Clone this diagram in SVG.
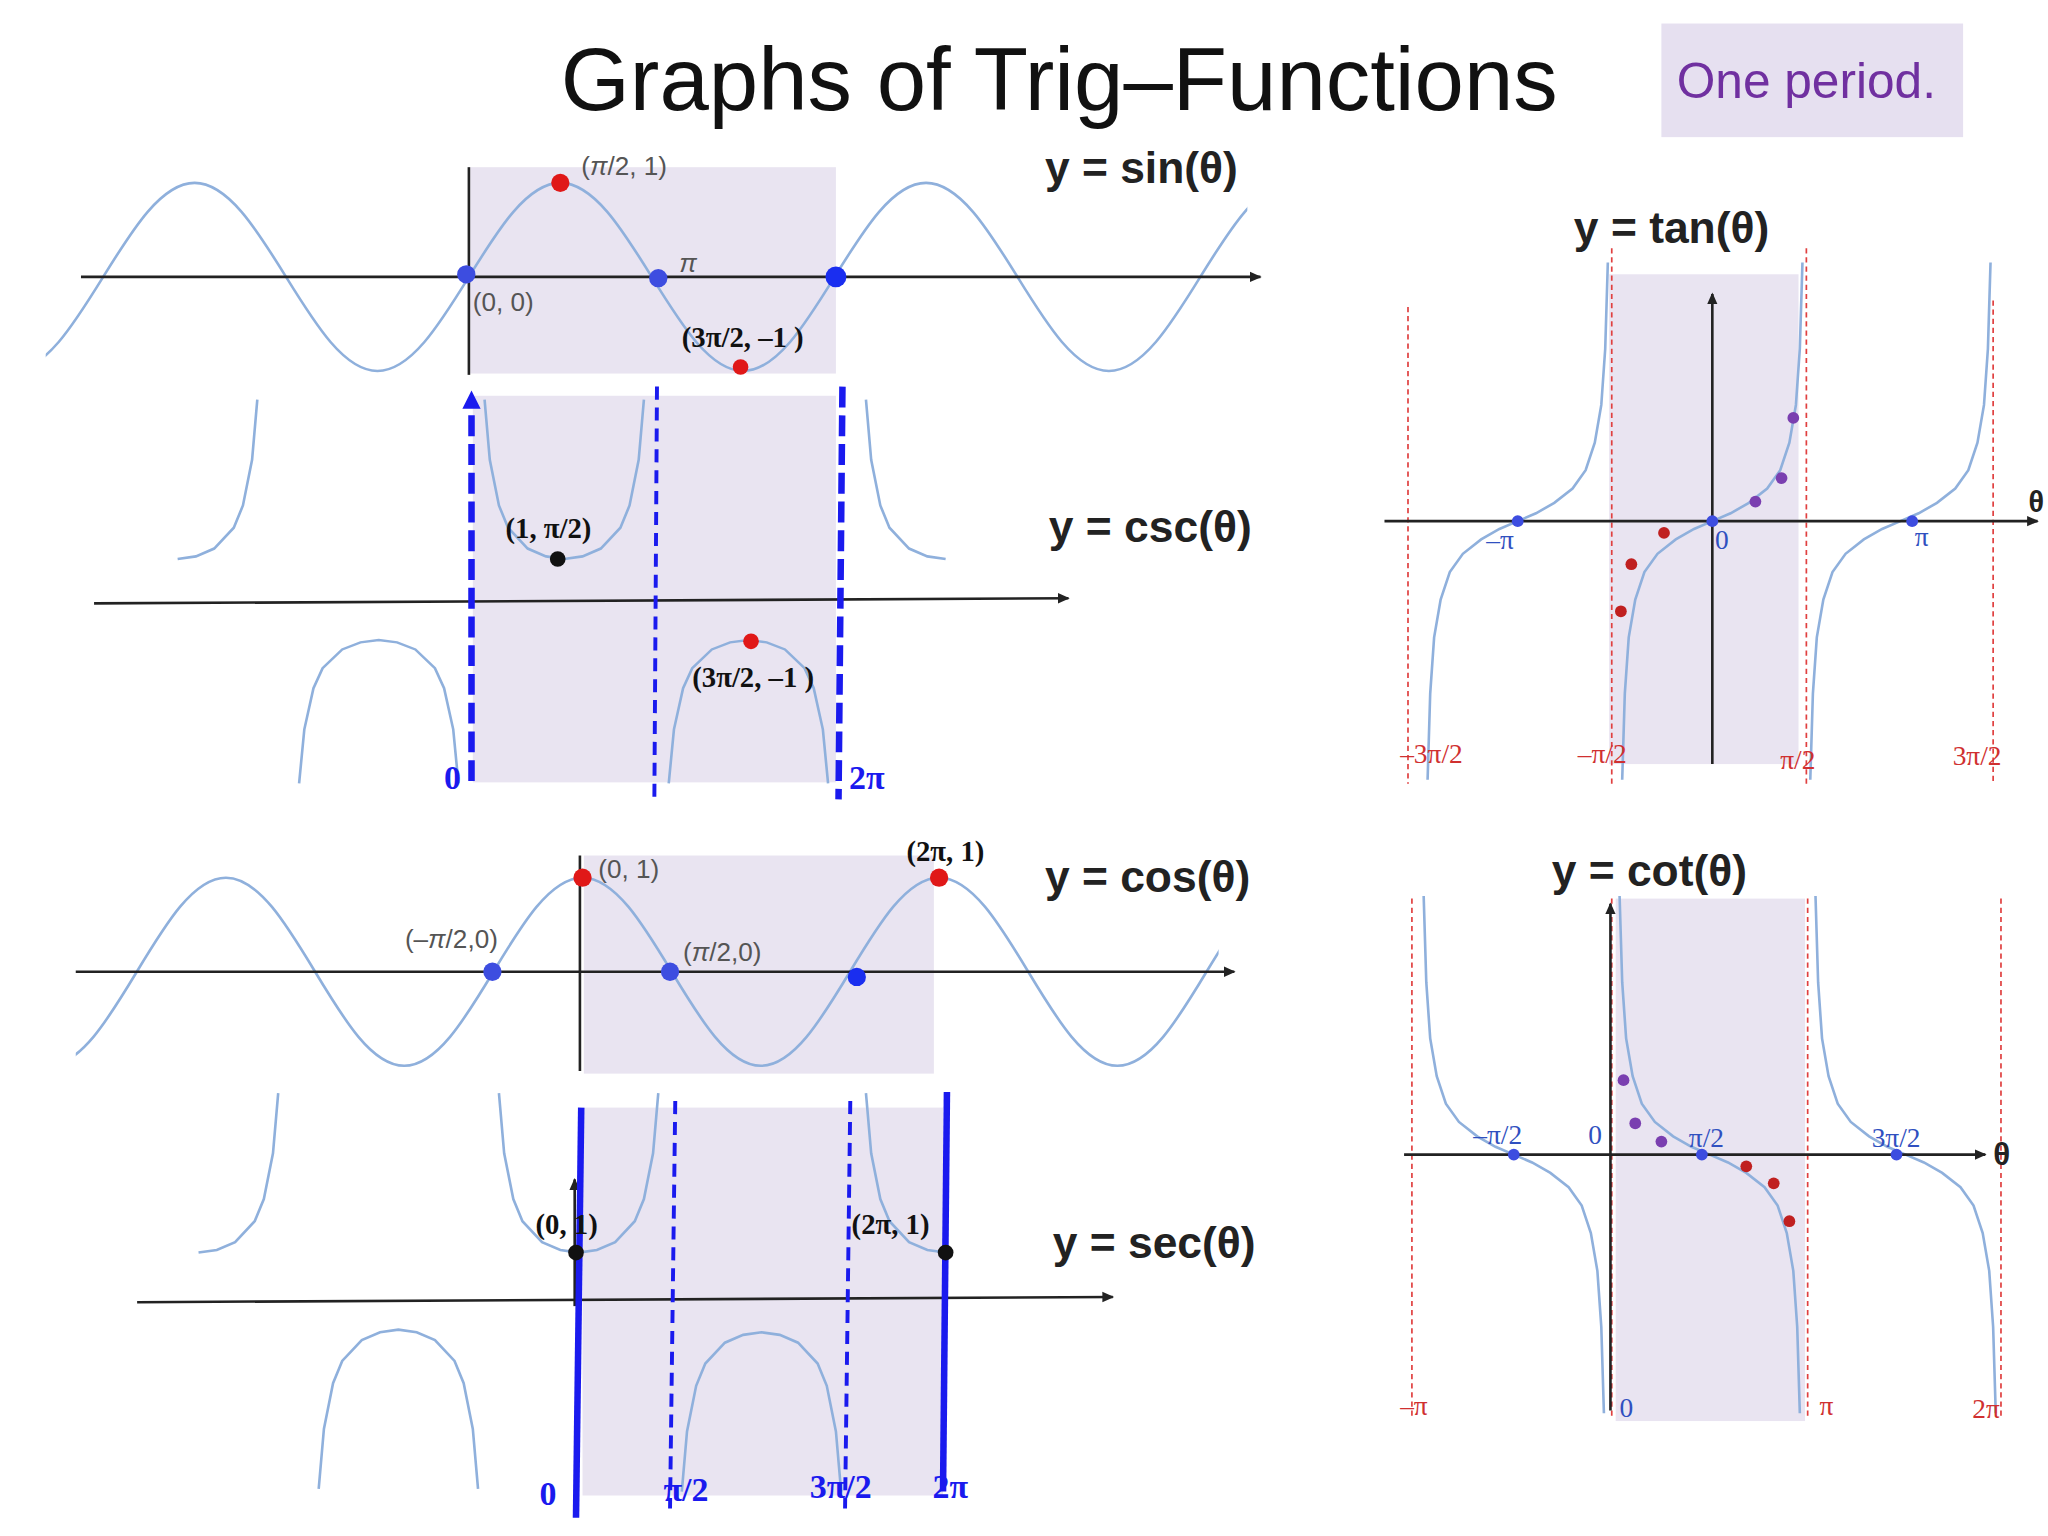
<svg xmlns="http://www.w3.org/2000/svg" xmlns:xlink="http://www.w3.org/1999/xlink" width="2048" height="1536" viewBox="0 0 2048 1536">
<style>
.shade{fill:#e9e4f1}
.curve{fill:none;stroke:#8fb0dc;stroke-width:2}
.axis{stroke:#222;stroke-width:2;fill:none}
.bdash{stroke:#1a1aee;stroke-width:3;stroke-dasharray:10,6;fill:none}
.bthick{stroke:#1a1aee;stroke-width:5;stroke-dasharray:16,6;fill:none}
.bsolid{stroke:#1a1aee;stroke-width:5;fill:none}
.rdash{stroke:#e04040;stroke-width:1.3;stroke-dasharray:4,3;fill:none}
.ttl{font-family:"Liberation Sans",Arial,sans-serif;font-weight:bold;font-size:34px;fill:#222}
.lbl{font-family:"Liberation Sans",Arial,sans-serif;font-size:20px;fill:#555}
.slb{font-family:"Liberation Serif","Times New Roman",serif;font-weight:bold;font-size:22px;fill:#111}
.blu{font-family:"Liberation Serif","Times New Roman",serif;font-weight:bold;font-size:26px;fill:#1a1aee}
.tb{font-family:"Liberation Serif","Times New Roman",serif;font-size:21px;fill:#3050c0}
.tr{font-family:"Liberation Serif","Times New Roman",serif;font-size:21px;fill:#d03030}
</style>
<defs>
<marker id="ah" markerWidth="10" markerHeight="10" refX="8" refY="5" orient="auto" markerUnits="userSpaceOnUse"><path d="M0,1 L9,5 L0,9 z" fill="#222"/></marker>
<marker id="bh" markerWidth="16" markerHeight="16" refX="8" refY="8" orient="auto" markerUnits="userSpaceOnUse"><path d="M0,1 L14,8 L0,15 z" fill="#1a1aee"/></marker>
<path id="U" d="M-61,-122 L-57,-76 L-50,-41 L-43,-24 L-28,-8 L-14,-2 L0,0 L14,-2 L28,-8 L43,-24 L50,-41 L57,-76 L61,-122"/>
<path id="Ur" d="M0,0 L14,-2 L28,-8 L43,-24 L50,-41 L57,-76 L61,-122"/>
<path id="Ul" d="M-61,-122 L-57,-76 L-50,-41 L-43,-24 L-28,-8 L-14,-2 L0,0"/>
<path id="T" d="M-69,198 L-67,132 L-64,89 L-59,60 L-52,39 L-42,25 L-28,14 L-14,6 L0,0 L14,-6 L28,-14 L42,-25 L52,-39 L59,-60 L64,-89 L67,-132 L69,-198"/>
<clipPath id="cs"><rect x="35" y="0" width="920" height="400"/></clipPath>
<clipPath id="cc"><rect x="58" y="600" width="875" height="250"/></clipPath>
</defs>
<rect width="2048" height="1536" fill="#fff"/>
<g transform="scale(1.30612)">
<g id="title"><text x="811" y="84" text-anchor="middle" font-family="Liberation Sans,Arial,sans-serif" font-size="68" fill="#111">Graphs of Trig–Functions</text></g>
<g id="oneperiod"><rect x="1272" y="18" width="231" height="87" fill="#e6e0f0"/><text x="1383" y="75" text-anchor="middle" font-family="Liberation Sans,Arial,sans-serif" font-size="38" fill="#7030a0">One period.</text></g>

<g id="sin">
<rect class="shade" x="360" y="128" width="280" height="158"/>
<g clip-path="url(#cs)"><path class="curve" d="M-201,212 c22.8,-36.9 44.7,-72 70,-72 s47.2,35.1 70,72 s44.7,72 70,72 s47.2,-35.1 70,-72 s44.7,-72 70,-72 s47.2,35.1 70,72 s44.7,72 70,72 s47.2,-35.1 70,-72 s44.7,-72 70,-72 s47.2,35.1 70,72 s44.7,72 70,72 s47.2,-35.1 70,-72 s44.7,-72 70,-72 s47.2,35.1 70,72 s44.7,72 70,72 s47.2,-35.1 70,-72 s44.7,-72 70,-72 s47.2,35.1 70,72 s44.7,72 70,72 s47.2,-35.1 70,-72 s44.7,-72 70,-72"/></g>
<line class="axis" x1="62" y1="212" x2="965" y2="212" marker-end="url(#ah)"/>
<line class="axis" x1="359" y1="128" x2="359" y2="287"/>
<circle cx="429" cy="140" r="7" fill="#e01818"/>
<circle cx="567" cy="281" r="6" fill="#e01818"/>
<circle cx="357" cy="210" r="7" fill="#3d4de0"/>
<circle cx="504" cy="213" r="7" fill="#3d4de0"/>
<circle cx="640" cy="212" r="8" fill="#1a2ef0"/>
<text class="lbl" x="445" y="134">(<tspan font-style="italic">π</tspan>/2, 1)</text>
<text class="lbl" x="520" y="208" font-style="italic">π</text>
<text class="lbl" x="362" y="238">(0, 0)</text>
<text class="slb" x="522" y="266">(3π/2, –1 )</text>
<text class="ttl" x="800" y="140">y = sin(θ)</text>
</g>

<g id="csc">
<rect class="shade" x="362" y="303" width="278" height="296"/>
<use href="#U" class="curve" transform="translate(432,428)"/>
<use href="#U" class="curve" transform="translate(573,490) scale(1,-0.9)"/>
<use href="#U" class="curve" transform="translate(290,490) scale(1,-0.9)"/>
<use href="#Ur" class="curve" transform="translate(136,428)"/>
<use href="#Ul" class="curve" transform="translate(724,428)"/>
<line class="axis" x1="72" y1="462" x2="818" y2="458" marker-end="url(#ah)"/>
<line class="bthick" x1="361" y1="598" x2="361" y2="305" marker-end="url(#bh)"/>
<line class="bdash" x1="503" y1="296" x2="501" y2="612"/>
<line class="bthick" x1="645" y1="296" x2="642" y2="612"/>
<circle cx="427" cy="428" r="6" fill="#111"/>
<circle cx="575" cy="491" r="6" fill="#e01818"/>
<text class="slb" x="387" y="412">(1, π/2)</text>
<text class="slb" x="530" y="526">(3π/2, –1 )</text>
<text class="blu" x="340" y="604">0</text>
<text class="blu" x="650" y="604">2π</text>
<text class="ttl" x="803" y="415">y = csc(θ)</text>
</g>

<g id="cos">
<rect class="shade" x="447" y="655" width="268" height="167"/>
<g clip-path="url(#cc)"><path class="curve" d="M-168.25,744 c22.2,-36.9 43.5,-72 68.25,-72 s46,35.1 68.25,72 s43.5,72 68.25,72 s46,-35.1 68.25,-72 s43.5,-72 68.25,-72 s46,35.1 68.25,72 s43.5,72 68.25,72 s46,-35.1 68.25,-72 s43.5,-72 68.25,-72 s46,35.1 68.25,72 s43.5,72 68.25,72 s46,-35.1 68.25,-72 s43.5,-72 68.25,-72 s46,35.1 68.25,72 s43.5,72 68.25,72 s46,-35.1 68.25,-72 s43.5,-72 68.25,-72 s46,35.1 68.25,72 s43.5,72 68.25,72 s46,-35.1 68.25,-72 s43.5,-72 68.25,-72"/></g>
<line class="axis" x1="58" y1="744" x2="945" y2="744" marker-end="url(#ah)"/>
<line class="axis" x1="444" y1="655" x2="444" y2="820"/>
<circle cx="446" cy="672" r="7" fill="#e01818"/>
<circle cx="719" cy="672" r="7" fill="#e01818"/>
<circle cx="377" cy="744" r="7" fill="#3d4de0"/>
<circle cx="513" cy="744" r="7" fill="#3d4de0"/>
<circle cx="656" cy="748" r="7" fill="#1a2ef0"/>
<text class="lbl" x="458" y="672">(0, 1)</text>
<text class="slb" x="694" y="659">(2π, 1)</text>
<text class="lbl" x="310" y="726">(–<tspan font-style="italic">π</tspan>/2,0)</text>
<text class="lbl" x="523" y="736">(<tspan font-style="italic">π</tspan>/2,0)</text>
<text class="ttl" x="800" y="683">y = cos(θ)</text>
</g>

<g id="sec">
<rect class="shade" x="446" y="848" width="276" height="297"/>
<use href="#U" class="curve" transform="translate(443,959)"/>
<use href="#Ul" class="curve" transform="translate(724,959)"/>
<use href="#U" class="curve" transform="translate(583,1020) scale(1,-1)"/>
<use href="#U" class="curve" transform="translate(305,1018) scale(1,-1)"/>
<use href="#Ur" class="curve" transform="translate(152,959)"/>
<line class="axis" x1="105" y1="997" x2="852" y2="993" marker-end="url(#ah)"/>
<line class="axis" x1="440" y1="1000" x2="440" y2="903" marker-end="url(#ah)"/>
<line class="bsolid" x1="445" y1="848" x2="441" y2="1162"/>
<line class="bdash" x1="517" y1="843" x2="513" y2="1155"/>
<line class="bdash" x1="651" y1="843" x2="647" y2="1155"/>
<line class="bsolid" x1="725" y1="836" x2="722" y2="1142"/>
<circle cx="441" cy="959" r="6" fill="#111"/>
<circle cx="724" cy="959" r="6" fill="#111"/>
<text class="slb" x="410" y="945">(0, 1)</text>
<text class="slb" x="652" y="945">(2π, 1)</text>
<text class="blu" x="413" y="1152">0</text>
<text class="blu" x="508" y="1149">π/2</text>
<text class="blu" x="620" y="1147">3π/2</text>
<text class="blu" x="714" y="1147">2π</text>
<text class="ttl" x="806" y="963">y = sec(θ)</text>
</g>

<g id="tan">
<rect class="shade" x="1232" y="210" width="145" height="375"/>
<line class="rdash" x1="1078" y1="235" x2="1078" y2="600"/>
<line class="rdash" x1="1234" y1="190" x2="1234" y2="600"/>
<line class="rdash" x1="1383" y1="190" x2="1383" y2="600"/>
<line class="rdash" x1="1526" y1="230" x2="1526" y2="600"/>
<use href="#T" class="curve" transform="translate(1311,399)"/>
<use href="#T" class="curve" transform="translate(1162,399)"/>
<use href="#T" class="curve" transform="translate(1455,399)"/>
<line class="axis" x1="1060" y1="399" x2="1560" y2="399" marker-end="url(#ah)" stroke-width="1.5"/>
<line class="axis" x1="1311" y1="585" x2="1311" y2="225" marker-end="url(#ah)" stroke-width="1.5"/>
<circle cx="1162" cy="399" r="4.5" fill="#3d4de0"/>
<circle cx="1311" cy="399" r="4.5" fill="#3d4de0"/>
<circle cx="1464" cy="399" r="4.5" fill="#3d4de0"/>
<circle cx="1373" cy="320" r="4.5" fill="#7a3fb0"/>
<circle cx="1364" cy="366" r="4.5" fill="#7a3fb0"/>
<circle cx="1344" cy="384" r="4.5" fill="#7a3fb0"/>
<circle cx="1274" cy="408" r="4.5" fill="#c02020"/>
<circle cx="1249" cy="432" r="4.5" fill="#c02020"/>
<circle cx="1241" cy="468" r="4.5" fill="#c02020"/>
<text class="tb" x="1138" y="420">–π</text>
<text class="tb" x="1313" y="420">0</text>
<text class="tb" x="1466" y="418">π</text>
<text class="tr" x="1072" y="584">–3π/2</text>
<text class="tr" x="1208" y="584">–π/2</text>
<text class="tr" x="1363" y="589">π/2</text>
<text class="tr" x="1495" y="586">3π/2</text>
<text x="1553" y="392" font-family="Liberation Sans,sans-serif" font-size="22" font-weight="bold" fill="#222">θ</text>
<text class="ttl" x="1205" y="186" font-size="40">y = tan(θ)</text>
</g>

<g id="cot">
<rect class="shade" x="1237" y="688" width="145" height="400"/>
<line class="rdash" x1="1081" y1="688" x2="1081" y2="1085"/>
<line class="rdash" x1="1234" y1="688" x2="1234" y2="1085"/>
<line class="rdash" x1="1384" y1="688" x2="1384" y2="1085"/>
<line class="rdash" x1="1532" y1="688" x2="1532" y2="1085"/>
<use href="#T" class="curve" transform="translate(1309,884) scale(-1,1)"/>
<use href="#T" class="curve" transform="translate(1159,884) scale(-1,1)"/>
<use href="#T" class="curve" transform="translate(1459,884) scale(-1,1)"/>
<line class="axis" x1="1075" y1="884" x2="1520" y2="884" marker-end="url(#ah)" stroke-width="1.5"/>
<line class="axis" x1="1233" y1="1080" x2="1233" y2="692" marker-end="url(#ah)" stroke-width="1.5"/>
<circle cx="1159" cy="884" r="4.5" fill="#3d4de0"/>
<circle cx="1303" cy="884" r="4.5" fill="#3d4de0"/>
<circle cx="1452" cy="884" r="4.5" fill="#3d4de0"/>
<circle cx="1243" cy="827" r="4.5" fill="#7a3fb0"/>
<circle cx="1252" cy="860" r="4.5" fill="#7a3fb0"/>
<circle cx="1272" cy="874" r="4.5" fill="#7a3fb0"/>
<circle cx="1337" cy="893" r="4.5" fill="#c02020"/>
<circle cx="1358" cy="906" r="4.5" fill="#c02020"/>
<circle cx="1370" cy="935" r="4.5" fill="#c02020"/>
<text class="tb" x="1128" y="876">–π/2</text>
<text class="tb" x="1216" y="876">0</text>
<text class="tb" x="1293" y="878">π/2</text>
<text class="tb" x="1433" y="878">3π/2</text>
<text class="tr" x="1072" y="1083">–π</text>
<text class="tb" x="1240" y="1085">0</text>
<text class="tr" x="1393" y="1083">π</text>
<text class="tr" x="1510" y="1086">2π</text>
<text x="1526" y="892" font-family="Liberation Sans,sans-serif" font-size="24" font-weight="bold" fill="#222">θ</text>
<text class="ttl" x="1188" y="678" font-size="40">y = cot(θ)</text>
</g>
</g>
</svg>
